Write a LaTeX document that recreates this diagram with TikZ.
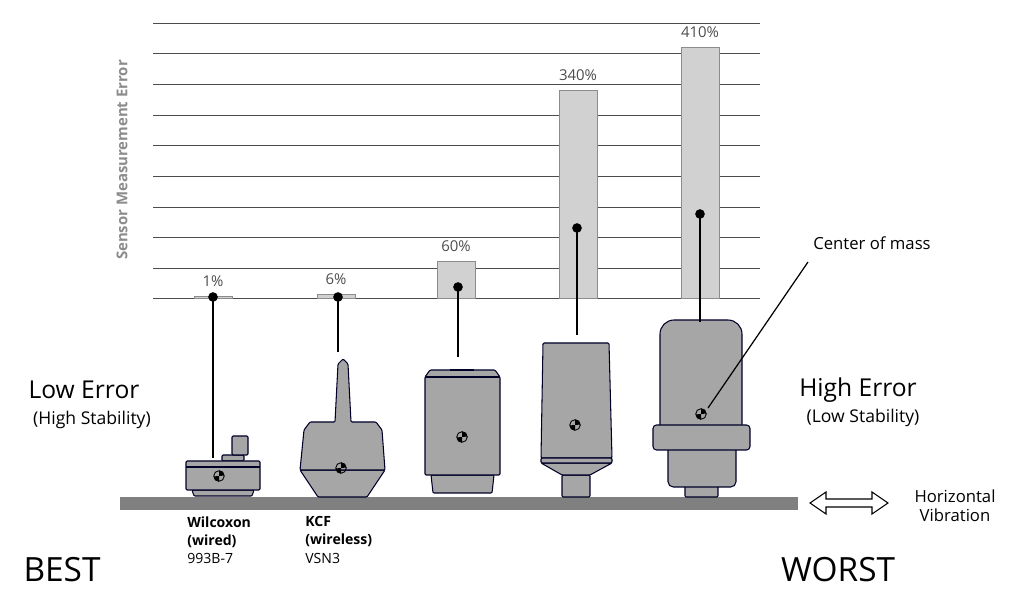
\documentclass[tikz,border=0pt]{standalone}
\usepackage{fontspec}
\setmainfont{Open Sans}
\usetikzlibrary{arrows.meta,positioning}

\begin{document}
\begin{tikzpicture}[
    x=0.02cm, y=-0.02cm,
    gridline/.style={draw=black!70, line width=0.5pt},
    bar/.style={draw=black!45, fill=black!18, line width=0.5pt},
    pct/.style={font=\fontsize{8.5}{9}\selectfont, text=black!70},
    sensor/.style={draw=black!60!blue!40!black, fill=black!35, line width=0.6pt, rounded corners=0.6pt},
    stem/.style={line width=0.7pt},
    dot/.style={circle, fill=black, inner sep=0pt, minimum size=5.5pt},
    com/.style={circle, draw=black, inner sep=0pt, minimum size=6pt, line width=0.5pt},
    big/.style={font=\fontsize{14}{16}\selectfont},
    paren/.style={font=\fontsize{10}{11}\selectfont},
    rank/.style={font=\fontsize{19}{20}\selectfont},
    tag/.style={font=\fontsize{8}{10.5}\selectfont, align=left, anchor=north west, inner sep=0pt}
    ]
    \useasboundingbox (0,0) rectangle (1024,607);

    % grid
    \foreach \y in {23,53,84,115,145,176,207,237,268,298}
      \draw[gridline] (153,\y) -- (760,\y);
    \node[rotate=90, font=\fontsize{8.5}{9}\selectfont\bfseries, text=black!45] (axis) at (122,160) {Sensor Measurement Error};

    % bars
    \foreach \xl/\top/\lab/\nm in {194/296/1\%/a, 317/294/6\%/b, 437/261/60\%/c, 559/90/340\%/d, 681/47/410\%/e} {
      \draw[bar] (\xl,298) rectangle (\xl+38,\top);
      \node[pct, anchor=south] (p\nm) at (\xl+19,\top-3) {\lab};
    }

    % base plate
    \fill[black!50] (120,497) rectangle (798,510);

    % sensor 1
    \draw[sensor] (222,461) rectangle (244,455);
    \draw[sensor] (232,455) rectangle (248,436);
    \draw[sensor] (192,490) -- (254,490) -- (252,496) -- (194,496) -- cycle;
    \draw[sensor] (186,461) rectangle (260,490);
    \draw[sensor] (186,467) -- (260,467);
    % sensor 2
    \draw[sensor] (300,470) -- (385,470) -- (367,497) -- (318,497) -- cycle;
    \draw[sensor] (300,470) -- (304,430) -- (310,422) -- (335,422) -- (338,364) -- (343,359) -- (348,364) -- (351,422)
      -- (376,422) -- (382,430) -- (385,470) -- cycle;
    % sensor 3
    \draw[sensor] (431,475) -- (494,475) -- (492,493) -- (433,493) -- cycle;
    \draw[sensor] (425,475) -- (425,377) -- (430,370) -- (495,370) -- (500,377) -- (500,475) -- cycle;
    \draw[sensor] (425,377) -- (500,377);
    \draw[sensor] (450,370) -- (474,370);
    % sensor 4
    \draw[sensor] (562,475) rectangle (590,497);
    \draw[sensor] (541,463) -- (612,463) -- (590,475) -- (562,475) -- cycle;
    \draw[sensor] (543,343) -- (609,343) -- (612,458) -- (541,458) -- cycle;
    \draw[sensor] (541,458) rectangle (612,463);
    % sensor 5
    \draw[sensor] (685,485) rectangle (718,497);
    \draw[sensor, rounded corners=3pt] (668,440) rectangle (736,487);
    \draw[sensor, rounded corners=8pt] (660,430) -- (660,320) -- (742,320) -- (742,430);
    \draw[sensor, rounded corners=2pt] (653,425) rectangle (750,450);

    % centres of mass
    \foreach \x/\y/\nm in {219/476/a, 341/468/b, 462/437/c, 575/425/d, 701/414/e} {
      \node[com] (m\nm) at (\x,\y) {};
      \fill (m\nm.center) -- (m\nm.north) arc (90:0:3pt) -- cycle;
      \fill (m\nm.center) -- (m\nm.south) arc (270:180:3pt) -- cycle;
    }

    % stems
    \foreach \x/\y/\ye/\nm in {213/297/458/a, 338/297/352/b, 458/287/357/c, 577/228/335/d, 700/214/322/e} {
      \node[dot] (d\nm) at (\x,\y) {};
      \coordinate (s\nm) at (\x,\ye);
      \draw[stem] (d\nm.center) -- (s\nm);
    }

    \node[font=\fontsize{9.5}{10}\selectfont] (cm) at (872,243) {Center of mass};
    \coordinate (cmtip) at (708,408);
    \draw[stem] (808,262) -- (cmtip);

    % side labels
    \node[big] (lowerr) at (84,390) {Low Error};
    \node[paren] (lowstab) at (92,420) {(High Stability)};
    \node[big] (higherr) at (858,390) {High Error};
    \node[paren] (highstab) at (863,418) {(Low Stability)};
    \node[rank] (best) at (62,570) {BEST};
    \node[rank] (worst) at (838,570) {WORST};

    \node[tag] (wil) at (187,516) {\textbf{Wilcoxon}\\\textbf{(wired)}\\993B-7};
    \node[tag] (kcf) at (305,516) {\textbf{KCF}\\\textbf{(wireless)}\\VSN3};

    % vibration
    \draw[line width=0.6pt, fill=white] (810,503) -- (826,492) -- (826,499) -- (872,499) -- (872,492) -- (888,503)
      -- (872,514) -- (872,507) -- (826,507) -- (826,514) -- cycle;
    \node[font=\fontsize{9.5}{11}\selectfont, align=center] (vib) at (955,506) {Horizontal\\Vibration};
\end{tikzpicture}
\end{document}
